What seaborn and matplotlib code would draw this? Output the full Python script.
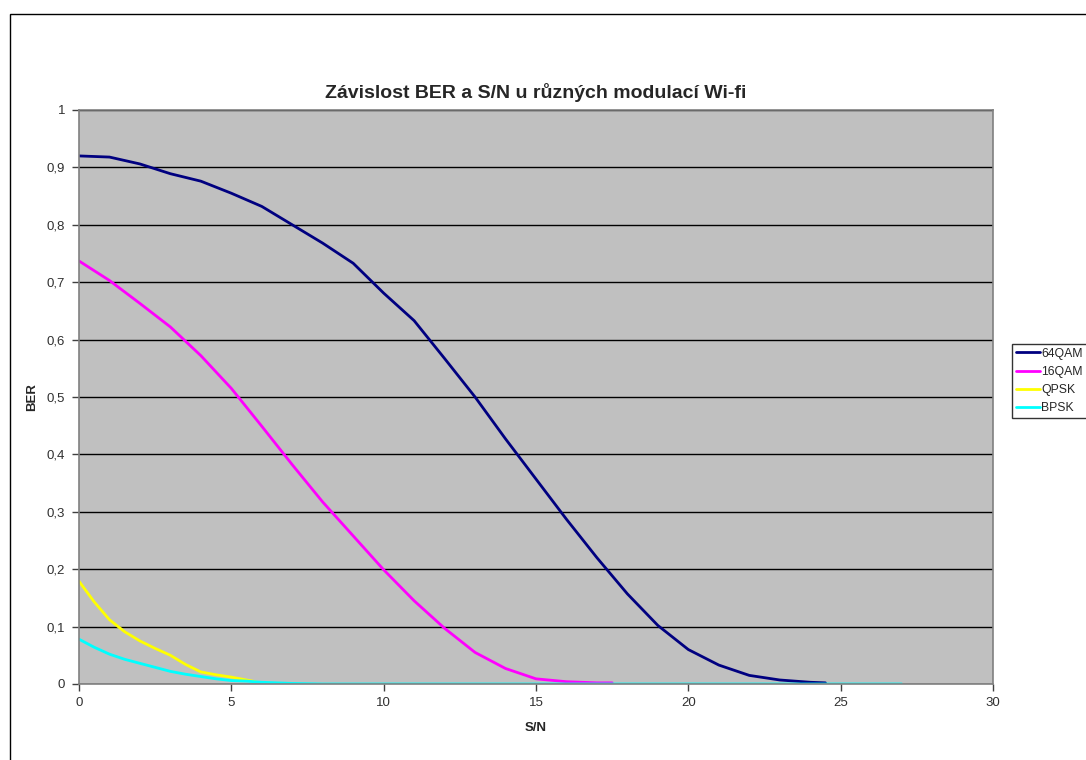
import numpy as np
import pandas as pd
import matplotlib
matplotlib.use("Agg")
import matplotlib.pyplot as plt
from matplotlib.patches import Rectangle
from matplotlib.ticker import FuncFormatter, MultipleLocator
import seaborn as sns

# BER vs. S/N for the Wi-Fi modulations
sn_64qam = [0, 1, 2, 3, 4, 5, 6, 7, 8, 9, 10, 11, 12, 13, 14, 15, 16, 17, 18,
            19, 20, 21, 22, 23, 24, 24.5]
ber_64qam = [0.920, 0.918, 0.906, 0.889, 0.876, 0.855, 0.832, 0.800, 0.768,
             0.733, 0.681, 0.633, 0.567, 0.500, 0.427, 0.357, 0.287, 0.220,
             0.157, 0.102, 0.060, 0.033, 0.015, 0.007, 0.003, 0.002]

sn_16qam = [0, 1, 2, 3, 4, 5, 6, 7, 8, 9, 10, 11, 12, 13, 14, 15, 16, 17, 17.5]
ber_16qam = [0.737, 0.703, 0.663, 0.622, 0.572, 0.515, 0.449, 0.382, 0.317,
             0.258, 0.199, 0.145, 0.097, 0.055, 0.027, 0.009, 0.004, 0.002,
             0.002]

sn_qpsk = [0, 0.5, 1, 1.5, 2, 2.5, 3, 3.5, 4, 4.5, 5, 5.5, 5.8]
ber_qpsk = [0.179, 0.143, 0.112, 0.091, 0.075, 0.062, 0.050, 0.034, 0.021,
            0.016, 0.012, 0.007, 0.004]

sn_bpsk = [0, 0.5, 1, 1.5, 2, 2.5, 3, 3.5, 4, 4.5, 5, 5.5, 6, 7, 7.5, 8, 27]
ber_bpsk = [0.078, 0.064, 0.052, 0.043, 0.036, 0.029, 0.022, 0.017, 0.013,
            0.009, 0.006, 0.005, 0.003, 0.001, 0.0005, 0.0, 0.0]

series_names = ["64QAM", "16QAM", "QPSK", "BPSK"]
series_colors = ["#000080", "#FF00FF", "#FFFF00", "#00FFFF"]

frames = []
for name, xs, ys in zip(series_names,
                        [sn_64qam, sn_16qam, sn_qpsk, sn_bpsk],
                        [ber_64qam, ber_16qam, ber_qpsk, ber_bpsk]):
    frames.append(pd.DataFrame({"S/N": xs, "BER": ys, "Modulace": name}))
df = pd.concat(frames, ignore_index=True)

sns.set_style("white")
plt.rcParams["font.family"] = ["Liberation Sans", "DejaVu Sans"]

fig = plt.figure(figsize=(10.86, 7.6), dpi=100)
ax = fig.add_axes([79 / 1086, 1 - 684 / 760, (993 - 79) / 1086, (684 - 110) / 760])
ax.set_facecolor("#C0C0C0")

sns.lineplot(data=df, x="S/N", y="BER", hue="Modulace",
             hue_order=series_names, palette=series_colors,
             linewidth=2.0, sort=False, estimator=None, ax=ax, legend=False)

ax.set_xlim(0, 30)
ax.set_ylim(0, 1)
ax.xaxis.set_major_locator(MultipleLocator(5))
ax.yaxis.set_major_locator(MultipleLocator(0.1))


def comma_fmt(v, pos):
    if abs(v - round(v)) < 1e-9:
        return f"{int(round(v))}"
    return f"{v:.1f}".replace(".", ",")


ax.yaxis.set_major_formatter(FuncFormatter(comma_fmt))
ax.xaxis.set_major_formatter(FuncFormatter(comma_fmt))

ax.grid(axis="y", color="black", linewidth=1.0)
ax.grid(axis="x", visible=False)
ax.set_axisbelow(True)

for side in ["left", "bottom", "top", "right"]:
    ax.spines[side].set_color("#808080")
    ax.spines[side].set_linewidth(1.2)

ax.tick_params(axis="both", which="major", direction="out", length=5,
               width=1, color="#404040", labelsize=9.5, labelcolor="#303030",
               left=True, bottom=True, pad=5)
ax.tick_params(axis="x", pad=4)

ax.set_xlabel("S/N", fontsize=9.5, fontweight="bold", labelpad=10)
ax.set_ylabel("BER", fontsize=9.5, fontweight="bold", labelpad=6)
fig.text(536 / 1086, 1 - 92 / 760,
         "Závislost BER a S/N u různých modulací Wi-fi",
         ha="center", va="center", fontsize=14, fontweight="bold")

handles = [plt.Line2D([], [], color=c, linewidth=2.0) for c in series_colors]
leg = fig.legend(handles, series_names, loc="upper left",
                 bbox_to_anchor=(1012 / 1086, 1 - 344 / 760),
                 frameon=True, fancybox=False, fontsize=8.8,
                 handlelength=2.0, handletextpad=0.1, labelspacing=0.5,
                 borderpad=0.3, borderaxespad=0)
leg.get_frame().set_edgecolor("black")
leg.get_frame().set_linewidth(1.0)

# chart-area border (runs off the right and bottom edges)
fig.patches.append(Rectangle((10 / 1086, -0.05), 1.2, 1.05 - 14 / 760,
                             transform=fig.transFigure, fill=False,
                             edgecolor="black", linewidth=1.0))

fig.savefig("out.png", dpi=100, facecolor="white")
